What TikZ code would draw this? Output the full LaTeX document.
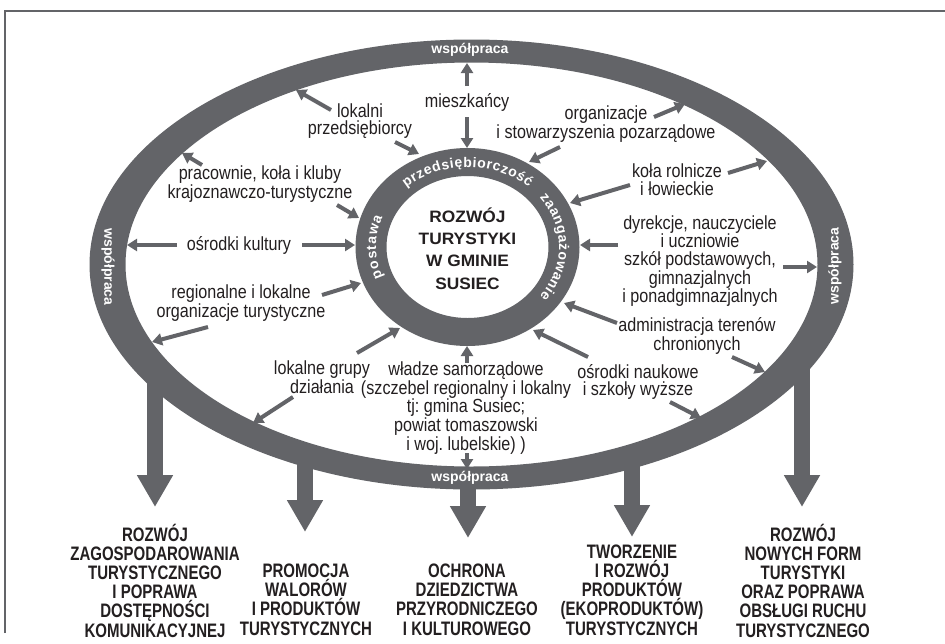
\documentclass[tikz,border=0pt]{standalone}
\usepackage{fontspec}
\setmainfont{Liberation Sans}
\newfontfamily\lblfamily[FakeStretch=0.85]{Liberation Sans}
\newfontfamily\capfamily[FakeStretch=0.77]{Liberation Sans}
\newfontfamily\ctrfamily[FakeStretch=1.05]{Liberation Sans}
\usetikzlibrary{arrows.meta,decorations.text,calc}
\definecolor{ringgray}{RGB}{99,100,104}
\definecolor{txtdark}{RGB}{35,31,32}
\frenchspacing
\newcommand{\ringsmallfont}{\bfseries\fontsize{14}{14}\selectfont\color{white}}
\tikzset{
  lbl/.style={align=center, inner sep=0pt, text=txtdark, font=\lblfamily\fontsize{19}{17.6}\selectfont},
  caps/.style={align=center, inner sep=0pt, text=txtdark, font=\capfamily\bfseries\fontsize{19.5}{19.2}\selectfont},
  ctr/.style={align=center, inner sep=0pt, text=txtdark, font=\ctrfamily\bfseries\fontsize{16.5}{22.3}\selectfont},
  ringlbl/.style={inner sep=0pt, text=white, font=\bfseries\fontsize{14}{14}\selectfont},
  sarrow/.style={draw=ringgray, line width=4pt, -{Triangle[length=10pt,width=12pt]}},
  barrow/.style={draw=ringgray, line width=16pt, -{Triangle[length=32pt,width=34pt]}},
  ringtext/.style={decorate, decoration={text along path, text align={fit to path}, text color=white, text={|\ringsmallfont|#1}}}
}
\begin{document}
\begin{tikzpicture}[x=1pt,y=1pt]
\useasboundingbox (0,0) rectangle (945,-643);
\fill[white] (0,0) rectangle (945,-643);
% frame
\draw[ringgray, line width=2.5pt] (5,-633) -- (5,-11) -- (945,-11);

% big down arrows
\coordinate (b1s) at (155,-370); \coordinate (b1t) at (155,-507);
\coordinate (b2s) at (305,-455); \coordinate (b2t) at (305,-532);
\coordinate (b3s) at (468,-480); \coordinate (b3t) at (468,-538);
\coordinate (b4s) at (632,-455); \coordinate (b4t) at (632,-537);
\coordinate (b5s) at (802,-350); \coordinate (b5t) at (802,-507);
\draw[barrow] (b1s) -- (b1t);
\draw[barrow] (b2s) -- (b2t);
\draw[barrow] (b3s) -- (b3t);
\draw[barrow] (b4s) -- (b4t);
\draw[barrow] (b5s) -- (b5t);

% outer ring
\coordinate (oc) at (471.5,-264.5);
\fill[ringgray, even odd rule] (oc) ellipse [x radius=382, y radius=225] (oc) ellipse [x radius=346, y radius=202];
\node[ringlbl] (wtop) at (470,-50) {współpraca};
\node[ringlbl] (wbot) at (470,-478) {współpraca};
\node[ringlbl, rotate=-90] (wleft) at (108,-267) {współpraca};
\node[ringlbl, rotate=90] (wright) at (835,-266) {współpraca};

% inner ring
\coordinate (ic) at (467.5,-247);
\fill[ringgray, even odd rule] (ic) ellipse [x radius=112, y radius=99] (ic) ellipse [x radius=81, y radius=71];
\path[ringtext={przedsiębiorczość}] ($(ic)+(132:91.5 and 80)$) arc [start angle=132, end angle=48, x radius=91.5, y radius=80];
\path[ringtext={zaangażowanie}] ($(ic)+(38:91.5 and 80)$) arc [start angle=38, end angle=-38, x radius=91.5, y radius=80];
\path[ringtext={postawa}] ($(ic)+(202:91.5 and 80)$) arc [start angle=202, end angle=158, x radius=91.5, y radius=80];
\node[ctr] (core) at (467.5,-248.5) {ROZWÓJ\\TURYSTYKI\\W GMINIE\\SUSIEC};

% labels
\node[lbl] (miesz) at (467,-102) {mieszkańcy};
\node[lbl] (lokprz) at (360,-121) {lokalni\\przedsiębiorcy};
\node[lbl] (org) at (606,-124) {organizacje\\i stowarzyszenia pozarządowe};
\node[lbl] (prac) at (260,-184) {pracownie, koła i kluby\\krajoznawczo-turystyczne};
\node[lbl] (kola) at (677,-180) {koła rolnicze\\i łowieckie};
\node[lbl] (osr) at (239,-245) {ośrodki kultury};
\node[lbl] (dyr) at (700,-261) {dyrekcje, nauczyciele\\i uczniowie\\szkół podstawowych,\\gimnazjalnych\\i ponadgimnazjalnych};
\node[lbl] (reg) at (241,-303) {regionalne i lokalne\\organizacje turystyczne};
\node[lbl] (adm) at (697,-336) {administracja terenów\\chronionych};
\node[lbl] (lgd) at (322,-377) {lokalne grupy\\działania};
\node[lbl] (wladze) at (466,-408) {władze samorządowe\\(szczebel regionalny i lokalny\\tj: gmina Susiec;\\powiat tomaszowski\\i woj. lubelskie) )};
\node[lbl] (osn) at (638,-382) {ośrodki naukowe\\i szkoły wyższe};

% bottom goals
\node[caps] (c1) at (155,-580.5) {ROZWÓJ\\ZAGOSPODAROWANIA\\TURYSTYCZNEGO\\I POPRAWA\\DOSTĘPNOŚCI\\KOMUNIKACYJNEJ};
\node[caps] (c2) at (306,-599.5) {PROMOCJA\\WALORÓW\\I PRODUKTÓW\\TURYSTYCZNYCH};
\node[caps] (c3) at (467,-599.5) {OCHRONA\\DZIEDZICTWA\\PRZYRODNICZEGO\\I KULTUROWEGO};
\node[caps] (c4) at (632,-590) {TWORZENIE\\I ROZWÓJ\\PRODUKTÓW\\(EKOPRODUKTÓW)\\TURYSTYCZNYCH};
\node[caps] (c5) at (803,-580.5) {ROZWÓJ\\NOWYCH FORM\\TURYSTYKI\\ORAZ POPRAWA\\OBSŁUGI RUCHU\\TURYSTYCZNEGO};

% small arrows
\coordinate (a1s) at (467,-86);  \coordinate (a1t) at (467,-63);
\coordinate (a2s) at (467,-117); \coordinate (a2t) at (467,-148);
\coordinate (a3s) at (331,-110); \coordinate (a3t) at (296,-90);
\coordinate (a4s) at (395,-142); \coordinate (a4t) at (419,-154);
\coordinate (a5s) at (654,-117); \coordinate (a5t) at (685,-104);
\coordinate (a6s) at (560,-147); \coordinate (a6t) at (529,-162);
\coordinate (a7s) at (202,-165); \coordinate (a7t) at (182,-153);
\coordinate (a8s) at (337,-205); \coordinate (a8t) at (359,-218);
\coordinate (a9s) at (728,-173); \coordinate (a9t) at (767,-161);
\coordinate (a10s) at (630,-185); \coordinate (a10t) at (570,-203);
\coordinate (a11s) at (177,-245); \coordinate (a11t) at (127,-245);
\coordinate (a12s) at (302,-245); \coordinate (a12t) at (355,-245);
\coordinate (a13s) at (618,-245); \coordinate (a13t) at (580,-245);
\coordinate (a14s) at (783,-267); \coordinate (a14t) at (817,-267);
\coordinate (a15s) at (322,-295); \coordinate (a15t) at (361,-283);
\coordinate (a16s) at (208,-327); \coordinate (a16t) at (152,-342);
\coordinate (a17s) at (617,-323); \coordinate (a17t) at (564,-303);
\coordinate (a18s) at (732,-357); \coordinate (a18t) at (765,-372);
\coordinate (a19s) at (357,-353); \coordinate (a19t) at (400,-328);
\coordinate (a20s) at (293,-397); \coordinate (a20t) at (253,-423);
\coordinate (a21s) at (467,-363); \coordinate (a21t) at (467,-346);
\coordinate (a22s) at (467,-453); \coordinate (a22t) at (467,-469);
\coordinate (a23s) at (588,-357); \coordinate (a23t) at (533,-330);
\coordinate (a24s) at (670,-402); \coordinate (a24t) at (701,-418);
\foreach \i in {1,...,24}{\draw[sarrow] (a\i s) -- (a\i t);}
\end{tikzpicture}
\end{document}
